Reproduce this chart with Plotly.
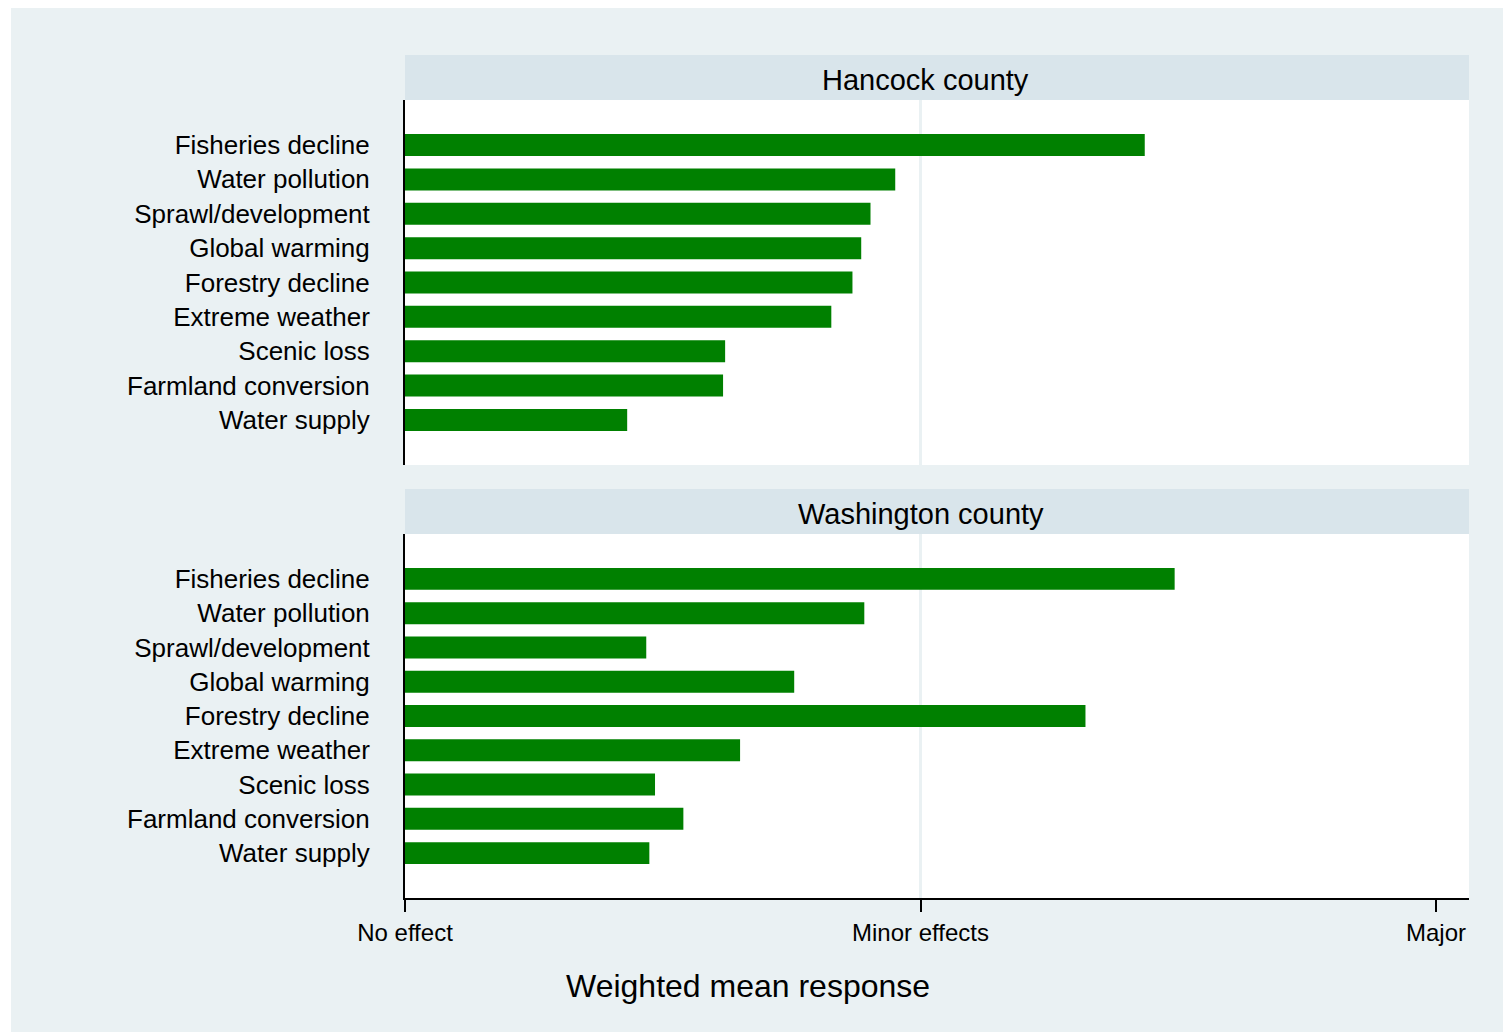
import plotly.graph_objects as go

# Page offset: the browser body adds an 8px margin, so the figure is placed relative to it
OFF = 8
W, H = 1511 - OFF, 1032 - OFF

categories = ["Fisheries decline", "Water pollution", "Sprawl/development", "Global warming",
              "Forestry decline", "Extreme weather", "Scenic loss", "Farmland conversion",
              "Water supply"]
hancock = [1.435, 0.951, 0.903, 0.885, 0.868, 0.827, 0.621, 0.617, 0.431]
washington = [1.493, 0.891, 0.468, 0.755, 1.320, 0.650, 0.485, 0.540, 0.474]
panel_titles = ["Hancock county", "Washington county"]
tick_vals = [0, 1, 2]
tick_text = ["No effect", "Minor effects", "Major"]
x_title = "Weighted mean response"

BG = "#EAF1F3"
STRIP = "#D9E5EB"
GREEN = "#008000"
FONT = "Liberation Sans, Arial, sans-serif"


def px_x(p):
    return (p - OFF) / W


def px_y(p):
    return 1 - (p - OFF) / H


x0, x1 = px_x(405), px_x(1469)
dom_top = [px_y(465), px_y(100)]
dom_bot = [px_y(898), px_y(534)]

fig = go.Figure()
fig.add_trace(go.Bar(x=hancock, y=categories, orientation="h",
                     marker=dict(color=GREEN, line=dict(width=0)),
                     xaxis="x", yaxis="y", showlegend=False))
fig.add_trace(go.Bar(x=washington, y=categories, orientation="h",
                     marker=dict(color=GREEN, line=dict(width=0)),
                     xaxis="x2", yaxis="y2", showlegend=False))

xrange = [0, 2.064]
yrange = [len(categories) - 1 + 1.31, -1.31]

yax = dict(type="category", categoryorder="array", categoryarray=categories, range=yrange,
           showline=True, linecolor="black", linewidth=2, ticks="", showgrid=False,
           zeroline=False, ticklabelstandoff=28, automargin=False,
           tickfont=dict(family=FONT, size=26, color="black"))

fig.update_layout(
    width=W, height=H,
    autosize=False,
    margin=dict(l=0, r=0, t=0, b=0, pad=0),
    paper_bgcolor=BG, plot_bgcolor="white",
    bargap=0.36,
    font=dict(family=FONT, color="black"),
    xaxis=dict(domain=[x0, x1], range=xrange, anchor="y", showticklabels=False, ticks="",
               showline=False, showgrid=False, zeroline=False, tickvals=tick_vals,
               automargin=False),
    yaxis=dict(domain=dom_top, anchor="x", **yax),
    xaxis2=dict(domain=[x0, x1], range=xrange, anchor="y2", tickvals=tick_vals, ticktext=tick_text,
                ticks="outside", ticklen=12, tickwidth=2, tickcolor="black",
                showline=True, linecolor="black", linewidth=2, showgrid=False, zeroline=False,
                automargin=False,
                tickfont=dict(family=FONT, size=24, color="black")),
    yaxis2=dict(domain=dom_bot, anchor="x2", **yax),
)

shapes = [
    # thin white outer border on the left
    dict(type="rect", xref="paper", yref="paper", x0=0, x1=px_x(11), y0=0, y1=1,
         fillcolor="white", line=dict(width=0), layer="below"),
    # strips
    dict(type="rect", xref="paper", yref="paper", x0=x0, x1=x1, y0=px_y(100), y1=px_y(55),
         fillcolor=STRIP, line=dict(width=0), layer="below"),
    dict(type="rect", xref="paper", yref="paper", x0=x0, x1=x1, y0=px_y(534), y1=px_y(489),
         fillcolor=STRIP, line=dict(width=0), layer="below"),
    # gridlines at "Minor effects"
    dict(type="line", xref="x", yref="y domain", x0=1, x1=1, y0=0, y1=1,
         line=dict(color=BG, width=3), layer="below"),
    dict(type="line", xref="x2", yref="y2 domain", x0=1, x1=1, y0=0, y1=1,
         line=dict(color=BG, width=3), layer="below"),
]
fig.update_layout(shapes=shapes)

annotations = [
    dict(text=panel_titles[0], xref="paper", yref="paper", x=px_x(925), y=px_y(80),
         showarrow=False, xanchor="center", yanchor="middle",
         font=dict(family=FONT, size=29, color="black")),
    dict(text=panel_titles[1], xref="paper", yref="paper", x=px_x(921), y=px_y(514),
         showarrow=False, xanchor="center", yanchor="middle",
         font=dict(family=FONT, size=29, color="black")),
    dict(text=x_title, xref="paper", yref="paper", x=px_x(748), y=px_y(986),
         showarrow=False, xanchor="center", yanchor="middle",
         font=dict(family=FONT, size=32, color="black")),
]
fig.update_layout(annotations=annotations)

fig.write_html("out.html",
               post_script="document.documentElement.style.overflow='hidden';"
                           "document.body.style.overflow='hidden';")
